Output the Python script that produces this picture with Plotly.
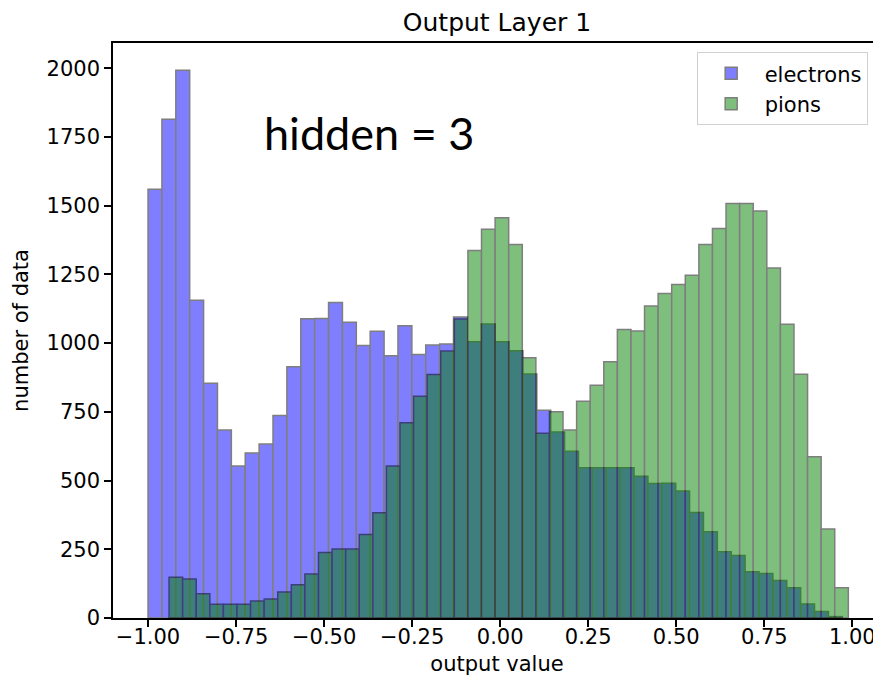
import numpy as np
import plotly.graph_objects as go

# ---- data (50 bins each) ----
electron_min, electron_max = -1.000, 0.9716
pion_min, pion_max = -0.9403, 0.9887

electron_counts = [1560, 1815, 1993, 1156, 854, 684, 553, 600, 633, 737,
                   914, 1089, 1090, 1148, 1076, 991, 1043, 954, 1063, 959,
                   993, 997, 1095, 1005, 1070, 1005, 972, 888, 756, 677,
                   607, 547, 547, 547, 547, 516, 489, 490, 462, 384,
                   314, 241, 227, 168, 162, 136, 110, 51, 24, 5]

pion_counts = [148, 142, 88, 50, 50, 50, 62, 69, 95, 121,
               160, 238, 251, 251, 304, 383, 553, 710, 807, 886,
               971, 1088, 1337, 1414, 1456, 1359, 947, 672, 750, 684,
               789, 847, 932, 1050, 1044, 1135, 1181, 1213, 1247, 1359,
               1417, 1508, 1508, 1481, 1273, 1069, 887, 587, 324, 110]

series_names = ["electrons", "pions"]
x_tick_values = [-1.00, -0.75, -0.50, -0.25, 0.00, 0.25, 0.50, 0.75, 1.00]
y_tick_values = [0, 250, 500, 750, 1000, 1250, 1500, 1750, 2000]

title_text = "Output Layer 1"
x_label = "output value"
y_label = "number of data"
annotation_text = "hidden = 3"


def bins(lo, hi, counts):
    edges = np.linspace(lo, hi, len(counts) + 1)
    centers = (edges[:-1] + edges[1:]) / 2
    width = edges[1] - edges[0]
    return centers, width


e_centers, e_width = bins(electron_min, electron_max, electron_counts)
p_centers, p_width = bins(pion_min, pion_max, pion_counts)

fig = go.Figure()
fig.add_trace(go.Bar(
    x=e_centers, y=electron_counts, width=e_width, name=series_names[0],
    marker=dict(color="#0000ff", line=dict(color="#000000", width=1.5)),
    opacity=0.5,
))
fig.add_trace(go.Bar(
    x=p_centers, y=pion_counts, width=p_width, name=series_names[1],
    marker=dict(color="#008000", line=dict(color="#000000", width=1.5)),
    opacity=0.5,
))

font_family = "DejaVu Sans, sans-serif"
fs = 21

fig.update_layout(
    width=873, height=668,
    barmode="overlay",
    paper_bgcolor="white", plot_bgcolor="white",
    margin=dict(l=105, r=0, t=35, b=58, autoexpand=False),
    font=dict(family=font_family, size=fs, color="#000000"),
    title=dict(text=title_text, x=0.5, xref="paper", y=1 - 14 / 668,
               yref="container", xanchor="center", yanchor="middle",
               font=dict(family=font_family, size=25, color="#000000")),
    showlegend=True,
    legend=dict(x=0.76, y=0.984, xanchor="left", yanchor="top",
                bgcolor="white", bordercolor="#d0d0d0", borderwidth=1,
                font=dict(family=font_family, size=fs, color="#000000"),
                itemwidth=57, tracegroupgap=2),
    annotations=[dict(text=annotation_text, xref="paper", yref="paper",
                      x=0.333, y=0.843, xanchor="center", yanchor="middle",
                      showarrow=False,
                      font=dict(family="Lato, Open Sans, sans-serif", size=45,
                                color="#000000"))],
)

fig.update_xaxes(
    range=[-1.0995, 1.0815],
    tickvals=x_tick_values, tickformat=".2f",
    ticks="outside", ticklen=7, tickwidth=1.5, tickcolor="#000000",
    ticklabelstandoff=-8,
    showline=True, linecolor="#000000", linewidth=1.5, mirror=True,
    showgrid=False, zeroline=False,
    title=dict(text=x_label, standoff=17,
               font=dict(family=font_family, size=fs, color="#000000")),
    tickfont=dict(family=font_family, size=fs, color="#000000"),
)
fig.update_yaxes(
    range=[0, 2092],
    tickvals=y_tick_values,
    ticks="outside", ticklen=7, tickwidth=1.5, tickcolor="#000000",
    showline=True, linecolor="#000000", linewidth=1.5, mirror=False,
    showgrid=False, zeroline=False,
    title=dict(text=y_label, standoff=12,
               font=dict(family=font_family, size=fs, color="#000000")),
    tickfont=dict(family=font_family, size=fs, color="#000000"),
)

fig.write_html("out.html")
